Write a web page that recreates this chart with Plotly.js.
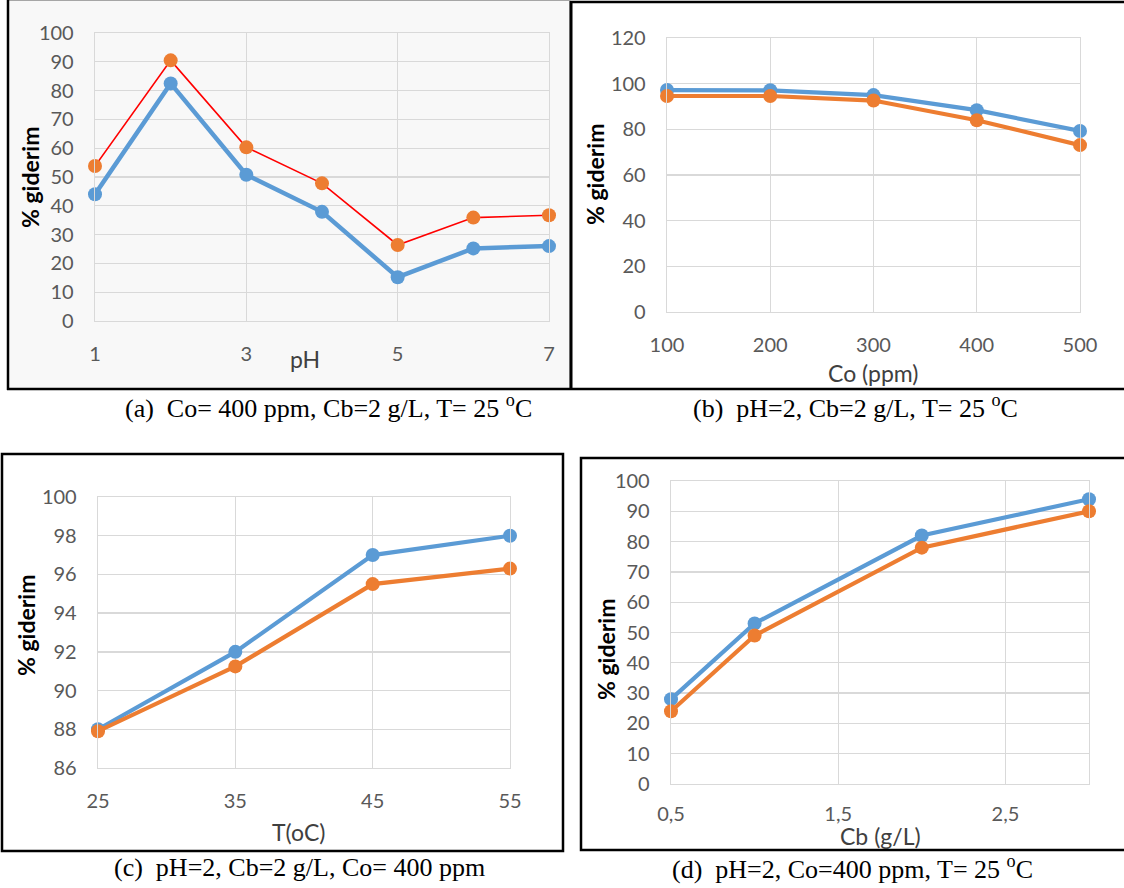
<!DOCTYPE html>
<html>
<head>
<meta charset="utf-8">
<script src="https://cdn.plot.ly/plotly-3.0.1.min.js"></script>
<style>html,body{margin:0;padding:0;background:#fff;}#chart{width:1124px;height:888px;}</style>
</head>
<body>
<div id="chart"></div>
<script>
// ---- data ----
const pH = [1, 2, 3, 4, 5, 6, 7];
const pHBlue = [44, 82.5, 50.8, 37.9, 15.2, 25.2, 26];
const pHRed = [53.8, 90.5, 60.3, 47.8, 26.4, 35.9, 36.7];
const pHTicks = [1, 3, 5, 7];

const Co = [100, 200, 300, 400, 500];
const CoBlue = [97.2, 97.1, 95, 88.4, 79.3];
const CoOrange = [94.6, 94.6, 92.6, 84, 73.1];

const T = [25, 35, 45, 55];
const TBlue = [88, 92, 97, 98];
const TOrange = [87.9, 91.25, 95.5, 96.3];

const Cb = [0.5, 1, 2, 3];
const CbBlue = [28, 53, 82, 94];
const CbOrange = [24, 49, 78, 90];
const CbTickVals = [0.5, 1.5, 2.5];
const CbTickText = ['0,5', '1,5', '2,5'];

const yTitle = '% giderim';
const xTitles = ['pH', 'Co (ppm)', 'T(oC)', 'Cb (g/L)'];
const captions = [
  '(a)  Co= 400 ppm, Cb=2 g/L, T= 25 <sup>o</sup>C',
  '(b)  pH=2, Cb=2 g/L, T= 25 <sup>o</sup>C',
  '(c)  pH=2, Cb=2 g/L, Co= 400 ppm',
  '(d)  pH=2, Co=400 ppm, T= 25 <sup>o</sup>C'
];

// ---- layout helpers ----
const W = 1124, H = 888;
const px = v => v / W;
const py = v => 1 - v / H;
const BLUE = '#5B9BD5', ORANGE = '#ED7D31', RED = '#FF0000';
const TICKFONT = {family: 'Lato, "Open Sans", sans-serif', size: 20, color: '#595959'};

function xa(d0, d1, extra) {
  return Object.assign({
    domain: [px(d0), px(d1)], showgrid: true, gridcolor: '#d9d9d9', gridwidth: 1.3,
    zeroline: false, showline: true, mirror: true, linecolor: '#d9d9d9', linewidth: 1.3,
    ticks: '', tickfont: TICKFONT, ticklabelstandoff: 15, fixedrange: true
  }, extra);
}
function ya(top, bot, extra) {
  return Object.assign({
    domain: [py(bot), py(top)], showgrid: true, gridcolor: '#d9d9d9', gridwidth: 1.3,
    zeroline: false, showline: true, mirror: true, linecolor: '#d9d9d9', linewidth: 1.3,
    ticks: '', tickfont: TICKFONT, ticklabelstandoff: 16, fixedrange: true
  }, extra);
}

function series(x, y, color, width, msize, xaxis, yaxis, mcolor) {
  return {
    x: x, y: y, xaxis: xaxis, yaxis: yaxis, type: 'scatter', mode: 'lines+markers',
    line: {color: color, width: width},
    marker: {color: mcolor || color, size: msize},
    cliponaxis: false, showlegend: false, hoverinfo: 'skip'
  };
}

const data = [
  series(pH, pHBlue, BLUE, 4.5, 14, 'x', 'y'),
  series(pH, pHRed, RED, 1.6, 14, 'x', 'y', ORANGE),
  series(Co, CoBlue, BLUE, 4.2, 14, 'x2', 'y2'),
  series(Co, CoOrange, ORANGE, 4.2, 14, 'x2', 'y2'),
  series(T, TBlue, BLUE, 4.2, 14, 'x3', 'y3'),
  series(T, TOrange, ORANGE, 4.2, 14, 'x3', 'y3'),
  series(Cb, CbBlue, BLUE, 4.2, 14, 'x4', 'y4'),
  series(Cb, CbOrange, ORANGE, 4.2, 14, 'x4', 'y4')
];

const layout = {
  width: W, height: H, margin: {l: 0, r: 0, t: 0, b: 0},
  paper_bgcolor: '#ffffff', plot_bgcolor: 'rgba(0,0,0,0)', showlegend: false,
  xaxis: xa(95, 549, {range: [1, 7], tickvals: pHTicks, anchor: 'y'}),
  yaxis: ya(33, 321, {range: [0, 100], dtick: 10, anchor: 'x'}),
  xaxis2: xa(667, 1080, {range: [100, 500], dtick: 100, anchor: 'y2'}),
  yaxis2: ya(38, 312, {range: [0, 120], dtick: 20, anchor: 'x2'}),
  xaxis3: xa(98, 510, {range: [25, 55], tick0: 25, dtick: 10, anchor: 'y3'}),
  yaxis3: ya(497, 768, {range: [86, 100], dtick: 2, anchor: 'x3'}),
  xaxis4: xa(671, 1089, {range: [0.5, 3], tickvals: CbTickVals, ticktext: CbTickText, anchor: 'y4', ticklabelstandoff: 12}),
  yaxis4: ya(481, 784, {range: [0, 100], dtick: 10, anchor: 'x4'}),
  shapes: [
    // panel (a) background and frame
    {type: 'rect', xref: 'paper', yref: 'paper', x0: px(8), x1: px(570), y0: py(389), y1: py(0.5),
     fillcolor: '#f8f8f8', line: {color: '#a6a6a6', width: 1}, layer: 'below'},
    {type: 'line', xref: 'paper', yref: 'paper', x0: px(8), x1: px(8), y0: py(0), y1: py(390), line: {color: '#000', width: 2.5}},
    {type: 'line', xref: 'paper', yref: 'paper', x0: px(7), x1: px(1124), y0: py(389), y1: py(389), line: {color: '#000', width: 2.5}},
    // panel (b) frame
    {type: 'line', xref: 'paper', yref: 'paper', x0: px(571), x1: px(571), y0: py(1), y1: py(390), line: {color: '#000', width: 3}},
    {type: 'line', xref: 'paper', yref: 'paper', x0: px(570), x1: px(1124), y0: py(2), y1: py(2), line: {color: '#000', width: 2.5}},
    // panel (c) frame
    {type: 'rect', xref: 'paper', yref: 'paper', x0: px(2), x1: px(563), y0: py(851), y1: py(454),
     line: {color: '#000', width: 2.5}},
    // panel (d) frame
    {type: 'rect', xref: 'paper', yref: 'paper', x0: px(581), x1: px(1130), y0: py(850), y1: py(458),
     line: {color: '#000', width: 2.5}}
  ],
  annotations: []
};

const titleFont = {family: 'Lato, "Open Sans", sans-serif', size: 23, color: '#000000', weight: 'bold'};
const xtFont = {family: 'Lato, "Open Sans", sans-serif', size: 23, color: '#404040'};
const capFont = {family: '"Liberation Serif", "Times New Roman", serif', size: 26, color: '#000000'};

const yTitlePos = [[30, 178], [595, 175], [26, 625], [606, 650]];
const xTitlePos = [[305, 359], [873, 373], [298, 832], [880, 836]];
const capPos = [[328, 407], [855, 407], [300, 867], [852, 867]];

for (let i = 0; i < 4; i++) {
  layout.annotations.push({xref: 'paper', yref: 'paper', x: px(yTitlePos[i][0]), y: py(yTitlePos[i][1]),
    text: yTitle, textangle: -90, showarrow: false, font: titleFont, xanchor: 'center', yanchor: 'middle'});
  layout.annotations.push({xref: 'paper', yref: 'paper', x: px(xTitlePos[i][0]), y: py(xTitlePos[i][1]),
    text: xTitles[i], showarrow: false, font: xtFont, xanchor: 'center', yanchor: 'middle'});
  layout.annotations.push({xref: 'paper', yref: 'paper', x: px(capPos[i][0]), y: py(capPos[i][1]),
    text: captions[i], showarrow: false, font: capFont, xanchor: 'center', yanchor: 'middle'});
}

Plotly.newPlot('chart', data, layout, {displayModeBar: false, staticPlot: true});
</script>
</body>
</html>
